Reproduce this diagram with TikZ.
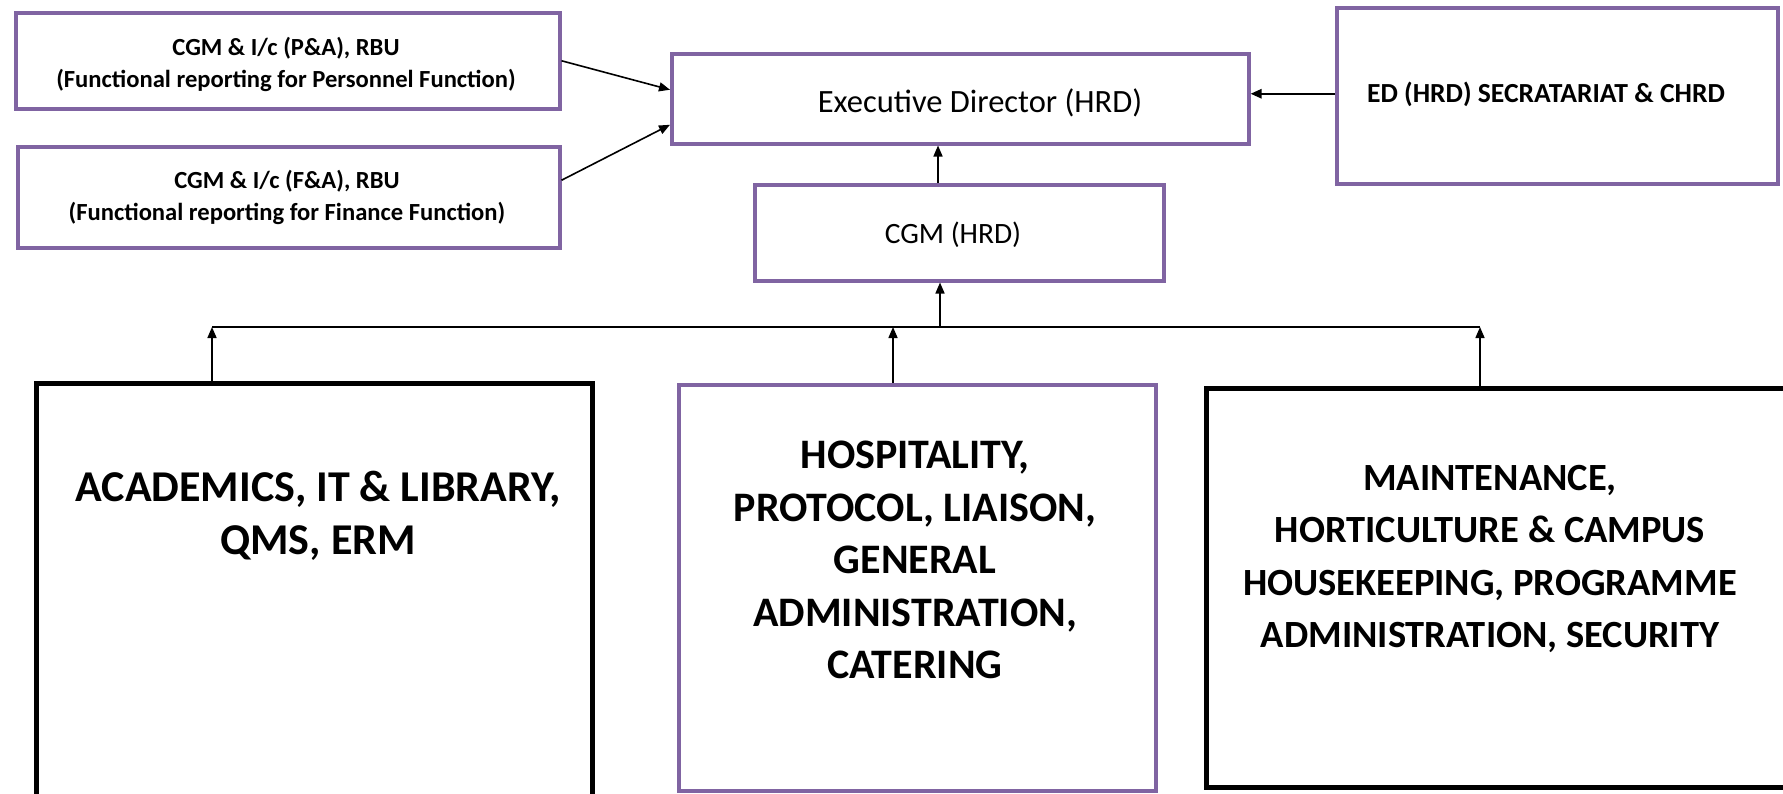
\documentclass[tikz,border=0pt]{standalone}
\usepackage{fontspec}
\setmainfont{Carlito}
\usetikzlibrary{arrows.meta}
\definecolor{boxpurple}{HTML}{8064A2}
\tikzset{
  frame/.style={draw=#1, fill=none, inner sep=0pt, anchor=north west},
  pbox/.style={frame=boxpurple, line width=3.5pt},
  kbox/.style={frame=black, line width=4.5pt},
  arr/.style={-{Triangle[length=11pt,width=9pt]}, line width=1.6pt, draw=black},
  busline/.style={line width=1.6pt, draw=black},
  smalltxt/.style={font=\bfseries\fontsize{24.6}{32}\selectfont, align=center, inner sep=0pt},
  midtxt/.style={font=\fontsize{32.5}{36}\selectfont, align=center, inner sep=0pt},
  bigtxt/.style={font=\bfseries\fontsize{#1}{52.5}\selectfont, align=center, inner sep=0pt},
}
\begin{document}
\begin{tikzpicture}[x=1pt,y=-1pt]
\useasboundingbox (0,0) rectangle (1783,793);
\clip (0,0) rectangle (1783,793);

% boxes
\node[pbox, minimum width=544pt, minimum height=96pt]  (pa)  at (14,11)   {};
\node[pbox, minimum width=542pt, minimum height=101pt] (fa)  at (16,145)  {};
\node[pbox, minimum width=577pt, minimum height=90pt]  (ed)  at (670,52)  {};
\node[pbox, minimum width=441pt, minimum height=176pt] (sec) at (1335,6)  {};
\node[pbox, minimum width=409pt, minimum height=96pt]  (cgm) at (753,183) {};
\node[kbox, minimum width=556pt, minimum height=440pt] (acad)  at (34,381)   {};
\node[pbox, minimum width=477pt, minimum height=406pt] (hosp)  at (677,383)  {};
\node[kbox, minimum width=600pt, minimum height=399pt] (maint) at (1204,386) {};

% texts
\node[smalltxt] (paT) at (286,64)
  {CGM \& I/c (P\&A), RBU\\(Functional reporting for Personnel Function)};
\node[smalltxt] (faT) at (287,197)
  {CGM \& I/c (F\&A), RBU\\(Functional reporting for Finance Function)};
\node[midtxt, anchor=base] (edT) at (980,112) {Executive Director (HRD)};
\node[smalltxt, font=\bfseries\fontsize{27.6}{32}\selectfont, anchor=base] (secT) at (1546,102)
  {ED (HRD) SECRATARIAT \& CHRD};
\node[midtxt, font=\fontsize{29.5}{36}\selectfont, anchor=base] (cgmT) at (953,243) {CGM (HRD)};
\node[bigtxt=44] (acadT) at (318,516)
  {ACADEMICS, IT \& LIBRARY,\\QMS, ERM};
\node[bigtxt=42] (hospT) at (915,560)
  {HOSPITALITY,\\PROTOCOL, LIAISON,\\GENERAL\\ADMINISTRATION,\\CATERING};
\node[bigtxt=38.5] (maintT) at (1490,559)
  {MAINTENANCE,\\HORTICULTURE \& CAMPUS\\HOUSEKEEPING, PROGRAMME\\ADMINISTRATION, SECURITY};

% connector positions
\coordinate (cx)   at (938,0);
\coordinate (busL) at (212,327);
\coordinate (busR) at (1480,327);
\coordinate (hx)   at (893,327);
\coordinate (bx)   at (940,327);

% connectors
\draw[arr] (pa.east) -- ([yshift=9pt]ed.west);
\draw[arr] ([yshift=17pt]fa.east) -- ([yshift=-26pt]ed.west);
\draw[arr, line width=2.4pt] ([yshift=2pt]sec.west) -- ([yshift=2pt]sec.west -| ed.east);
\draw[arr] (cgm.north -| cx) -- (ed.south -| cx);
\draw[busline] (busL) -- (busR);
\draw[arr] (bx) -- (cgm.south -| bx);
\draw[arr] (acad.north -| busL) -- (busL);
\draw[arr] (hosp.north -| hx) -- (hx);
\draw[arr] (maint.north -| busR) -- (busR);
\end{tikzpicture}
\end{document}
